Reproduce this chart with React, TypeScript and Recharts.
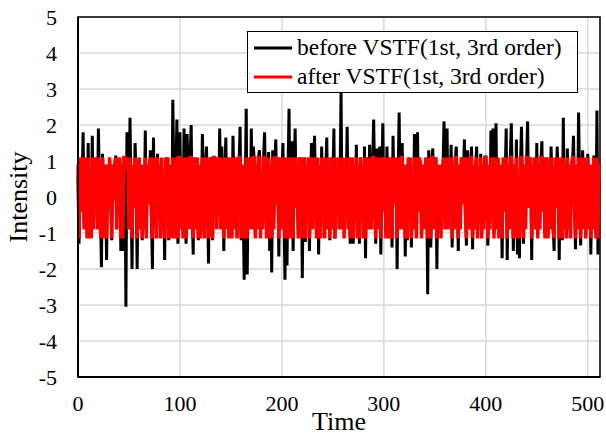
import { LineChart, Line, XAxis, YAxis, CartesianGrid, Legend, ReferenceArea, Label } from "recharts";

const FONT = "'Liberation Serif', 'Times New Roman', serif";

const X_TICKS = [0, 100, 200, 300, 400, 500];
const Y_TICKS = [-5, -4, -3, -2, -1, 0, 1, 2, 3, 4, 5];

const BEFORE_NAME = "before VSTF(1st, 3rd order)";
const AFTER_NAME = "after VSTF(1st, 3rd order)";
const LEGEND_ORDER = [BEFORE_NAME, AFTER_NAME];

// signal before the filter, one value per time step (0..511)
const before = [
  0.6, -1.3, 0.9, -0.4, 0.3, 1.8, -0.8, 0.5, 1.0, -1.1, 1.5, -0.9, 0.2, -1.0, 1.7, -0.6,
  0.9, -0.2, 1.1, -0.7, 1.9, 0.3, -0.5, -1.95, 1.2, 0.4, -0.9, 0.7, -1.75, 0.5, -0.3, 1.0,
  0.2, -1.2, 0.6, -0.1, 0.8, 1.15, -0.6, 0.9, 0.3, 1.0, -1.5, 0.7, -1.5, 0.9, 1.1, -3.05,
  1.8, 0.5, -0.8, 2.2, 0.1, -2.0, 0.8, -0.3, 1.5, 0.6, -2.0, 0.4, 1.0, -0.7, 0.6, -1.2,
  0.3, -0.6, 1.85, -0.9, 0.8, -0.2, 0.5, 1.3, -0.4, -2.0, 1.65, -0.5, 0.9, -1.0, 1.2, -0.3,
  0.7, -1.1, 1.0, -0.8, 0.2, -1.75, 0.9, -0.4, 1.1, -1.2, 0.3, 0.8, -0.9, 2.7, 0.4, -1.1,
  0.6, 2.15, -1.3, 0.9, 1.8, -0.5, 1.0, -1.0, 1.9, 0.2, -1.3, 1.75, 0.8, -0.6, 1.1, 2.0,
  -0.4, -1.6, 1.1, -0.7, 0.5, 1.0, -1.2, 0.6, -0.9, -0.3, 1.75, 0.4, -1.0, 0.7, 1.4, 0.2,
  -1.85, 0.8, 1.1, -0.5, -1.2, 0.9, 1.1, 0.5, -0.8, 1.0, 0.1, 1.9, -0.6, 1.4, 0.3, -1.5,
  0.6, 1.65, -0.8, 1.1, -1.0, 0.4, 1.0, -0.9, 1.7, 0.3, -0.6, 1.1, -1.1, 0.5, 0.9, 1.95,
  -1.2, 0.7, -0.3, -2.3, 0.2, 2.45, -2.15, 0.6, 1.0, -0.5, 1.9, -0.8, 1.4, 0.9, -1.05, 0.6,
  -0.5, 1.1, 1.3, -0.9, 0.4, -0.6, 1.1, 1.8, 0.2, -1.0, 0.8, 1.25, -1.5, 0.5, -2.1, 1.3,
  -0.6, 0.9, 1.6, -0.2, 0.7, -1.65, 1.1, -0.8, 0.6, 1.5, -0.4, -2.3, 1.0, -1.9, 0.7, 2.45,
  -0.9, 0.5, 1.55, -1.5, 0.8, 1.9, -0.3, 0.6, -0.9, 1.1, 0.2, 0.9, -2.25, 0.4, 1.1, -1.25,
  0.7, -0.4, 1.0, -1.5, 0.3, 1.5, -0.8, 0.6, 1.7, 0.1, -1.0, 0.9, -1.6, 0.5, -1.1, 1.4,
  -0.3, 1.0, -0.9, 0.6, 1.65, -0.5, 0.8, -1.2, 1.1, -0.6, 0.4, 1.9, -1.15, 0.7, -0.2, 1.0,
  -0.5, 0.3, 2.9, -0.7, 1.0, -0.9, 0.6, 0.1, 1.95, -0.8, 1.1, -1.3, 0.4, 1.0, -1.3, 0.8,
  -0.3, 1.45, -0.9, 0.7, -1.3, 1.1, -0.2, 0.5, -1.0, 1.4, -1.7, 0.6, 1.1, -0.8, 1.45, 0.2,
  -0.7, 0.9, 2.15, 0.4, -1.3, 1.35, -0.6, 0.8, 1.4, -1.6, 0.5, 2.05, -0.4, 1.0, -1.0, 1.4,
  0.3, -0.9, 1.1, 0.6, -1.4, 1.7, -0.2, 0.8, 1.0, -2.0, 0.6, 2.35, -0.5, 0.9, 1.5, -0.8,
  0.7, -1.65, 0.5, -1.2, 1.0, -0.3, 0.9, -1.4, 0.4, -0.6, 1.75, 0.2, -0.9, 1.8, -0.4, 1.0,
  0.5, -0.9, 0.3, 0.8, -0.6, 1.0, 0.2, -2.7, 1.3, 0.6, -1.4, 0.9, 1.35, -0.7, 0.4, 1.1,
  -2.0, 0.6, -0.3, 0.5, -0.9, 0.2, 0.8, 2.1, -0.6, 0.7, 1.9, -0.8, 1.1, 0.3, 1.45, -1.4,
  0.6, -0.5, 1.0, 1.4, 0.1, -1.5, 0.8, -0.7, 1.1, -0.2, 0.6, 1.6, -0.4, -1.35, 1.3, 0.3,
  -0.8, 0.9, 1.4, -1.45, 0.5, -0.6, 0.8, 1.4, -0.9, 0.4, -0.3, 1.2, -1.0, 0.7, -0.5, 0.9,
  1.15, 0.2, -1.35, 0.6, -0.7, 1.85, 0.3, 1.9, -1.0, 0.5, 2.05, -0.6, 1.0, -1.1, 0.8, 0.2,
  -1.7, 0.9, -0.4, 0.6, 1.9, -1.75, 0.7, -0.5, 1.0, 2.05, 0.3, -1.5, 0.8, -0.9, 1.6, -1.6,
  0.4, -1.7, 0.9, 1.95, 0.1, -1.3, 0.8, -0.6, 1.0, 2.1, -0.3, 0.6, 1.1, -1.75, 0.7, -0.4,
  1.0, -0.8, 1.5, -0.9, 0.5, -0.6, 0.9, 1.55, -0.4, 1.0, -1.0, 0.6, 1.1, -1.1, 0.8, -0.5,
  1.4, 0.3, -0.8, -1.5, 0.9, -0.3, 1.4, 0.5, -1.75, 0.8, 1.0, -1.2, 2.2, -0.5, 0.7, -0.9,
  1.35, -0.6, 0.8, -1.0, 0.5, 0.9, 1.7, -0.2, -1.45, 0.7, -0.5, 2.35, 0.4, -1.35, 0.6, 1.3,
  -0.7, 0.9, -1.0, 0.3, 1.2, -0.5, 0.8, -1.6, 0.6, -0.8, 1.15, 0.1, -0.9, 2.4, -1.6, 0.5,
];

// signal after the filter (mostly held near +-1.1)
const after = [
  0.9, -1.15, 1.1, -0.4, 0.3, 1.1, -0.9, 0.9, 1.1, -1.15, 1.1, -1.15, 0.2, -1.15, 1.1, -0.9,
  1.1, -0.2, 1.1, -0.9, 1.1, 0.3, -0.9, -1.15, 1.1, 0.4, -1.15, 0.9, -1.15, 0.9, -0.3, 1.1,
  0.2, -1.15, 0.9, -0.1, 0.9, 1.1, -0.9, 1.1, 0.3, 1.1, -1.15, 0.9, -1.15, 1.1, 1.1, 0.8,
  1.1, 0.9, -0.9, 1.1, 0.1, -1.15, 0.9, -0.3, 1.1, 0.9, -1.15, 0.4, 1.1, -0.9, 0.9, -1.15,
  0.3, -0.9, 1.1, -1.15, 0.9, -0.2, 0.9, 1.1, -0.4, -1.15, 1.1, -0.9, 1.1, -1.15, 1.1, -0.3,
  0.9, -1.15, 1.1, -0.9, 0.2, -1.15, 1.1, -0.4, 1.1, -1.15, 0.3, 0.9, -1.15, 1.1, 0.4, -1.15,
  0.9, 1.1, -1.15, 1.1, 1.1, -0.9, 1.1, -1.15, 1.1, 0.2, -1.15, 1.1, 0.9, -0.9, 1.1, 1.1,
  -0.4, -1.15, 1.1, -0.9, 0.9, 1.1, -1.15, 0.9, -1.15, -0.3, 1.1, 0.4, -1.15, 0.9, 1.1, 0.2,
  -1.15, 0.9, 1.1, -0.9, -1.15, 1.1, 1.1, 0.9, -0.9, 1.1, 0.1, 1.1, -0.9, 1.1, 0.3, -1.15,
  0.9, 1.1, -0.9, 1.1, -1.15, 0.4, 1.1, -1.15, 1.1, 0.3, -0.9, 1.1, -1.15, 0.9, 1.1, 1.1,
  -1.15, 0.9, -0.3, -1.15, 0.2, 1.1, -1.15, 0.9, 1.1, -0.9, 1.1, -0.9, 1.1, 1.1, -1.15, 0.9,
  -0.9, 1.1, 1.1, -1.15, 0.4, -0.9, 1.1, 1.1, 0.2, -1.15, 0.9, 1.1, -1.15, 0.9, -1.15, 1.1,
  -0.9, 1.1, 1.1, -0.2, 0.9, -1.15, 1.1, -0.9, 0.9, 1.1, -0.4, -1.15, 1.1, -1.15, 0.9, 1.1,
  -1.15, 0.9, 1.1, -1.15, 0.9, 1.1, -0.3, 0.9, -1.15, 1.1, 0.2, 1.1, -1.15, 0.4, 1.1, -1.15,
  0.9, -0.4, 1.1, -1.15, 0.3, 1.1, -0.9, 0.9, 1.1, 0.1, -1.15, 1.1, -1.15, 0.9, -1.15, 1.1,
  -0.3, 1.1, -1.15, 0.9, 1.1, -0.9, 0.9, -1.15, 1.1, -0.9, 0.4, 1.1, -1.15, 0.9, -0.2, 1.1,
  -0.9, 0.3, 1.1, -0.9, 1.1, -1.15, 0.9, 0.1, 1.1, -0.9, 1.1, -1.15, 0.4, 1.1, -1.15, 0.9,
  -0.3, 1.1, -1.15, 0.9, -1.15, 1.1, -0.2, 0.9, -1.15, 1.1, -1.15, 0.9, 1.1, -0.9, 1.1, 0.2,
  -0.9, 1.1, 1.1, 0.4, -1.15, 1.1, -0.9, 0.9, 1.1, -1.15, 0.9, 1.1, -0.4, 1.1, -1.15, 1.1,
  0.3, -1.15, 1.1, 0.9, -1.15, 1.1, -0.2, 0.9, 1.1, -1.15, 0.9, 1.1, -0.9, 1.1, 1.1, -0.9,
  0.9, -1.15, 0.9, -1.15, 1.1, -0.3, 1.1, -1.15, 0.4, -0.9, 1.1, 0.2, -1.15, 1.1, -0.4, 1.1,
  0.9, -1.15, 0.3, 0.9, -0.9, 1.1, 0.2, -1.15, 1.1, 0.9, -1.15, 1.1, 1.1, -0.9, 0.4, 1.1,
  -1.15, 0.9, -0.3, 0.9, -1.15, 0.2, 0.9, 1.1, -0.9, 0.9, 1.1, -0.9, 1.1, 0.3, 1.1, -1.15,
  0.9, -0.9, 1.1, 1.1, 0.1, -1.15, 0.9, -0.9, 1.1, -0.2, 0.9, 1.1, -0.4, -1.15, 1.1, 0.3,
  -0.9, 1.1, 1.1, -1.15, 0.9, -0.9, 0.9, 1.1, -1.15, 0.4, -0.3, 1.1, -1.15, 0.9, -0.9, 1.1,
  1.1, 0.2, -1.15, 0.9, -0.9, 1.1, 0.3, 1.1, -1.15, 0.9, 1.1, -0.9, 1.1, -1.15, 0.9, 0.2,
  -1.15, 1.1, -0.4, 0.9, 1.1, -1.15, 0.9, -0.9, 1.1, 1.1, 0.3, -1.15, 0.9, -1.15, 1.1, -1.15,
  0.4, -1.15, 1.1, 1.1, 0.1, -1.15, 0.9, -0.9, 1.1, 1.1, -0.3, 0.9, 1.1, -1.15, 0.9, -0.4,
  1.1, -0.9, 1.1, -1.15, 0.9, -0.9, 1.1, 1.1, -0.4, 1.1, -1.15, 0.9, 1.1, -1.15, 0.9, -0.9,
  1.1, 0.3, -0.9, -1.15, 1.1, -0.3, 1.1, 0.9, -1.15, 0.9, 1.1, -1.15, 1.1, -0.9, 0.9, -1.15,
  1.1, -0.9, 0.9, -1.15, 0.9, 1.1, 1.1, -0.2, -1.15, 0.9, -0.9, 1.1, 0.4, -1.15, 0.9, 1.1,
  -0.9, 1.1, -1.15, 0.3, 1.1, -0.9, 0.9, -1.15, 0.9, -0.9, 1.1, 0.1, -1.15, 1.1, -1.15, 0.9,
];

const data = before.map((b, i) => ({ t: i, before: b, after: after[i] }));

const renderLegend = (props: any) => {
  const items = [...(props.payload || [])].sort(
    (a: any, b: any) => LEGEND_ORDER.indexOf(a.value) - LEGEND_ORDER.indexOf(b.value)
  );
  return (
    <div
      style={{
        boxSizing: "border-box",
        width: 331,
        height: 62,
        border: "1.5px solid #000",
        background: "#fff",
        padding: "1px 6px",
        fontFamily: FONT,
        fontSize: 23.5,
        color: "#000",
        lineHeight: "29px",
      }}
    >
      {items.map((entry: any) => (
        <div key={entry.value} style={{ display: "flex", alignItems: "center", whiteSpace: "nowrap" }}>
          <svg width={38} height={10} style={{ marginRight: 5, flexShrink: 0 }}>
            <line x1={0} y1={5} x2={38} y2={5} stroke={entry.color} strokeWidth={3} />
          </svg>
          <span>{entry.value}</span>
        </div>
      ))}
    </div>
  );
};

export default function App() {
  return (
    <div style={{ position: "absolute", left: 0, top: 0, background: "#fff" }}>
      <LineChart width={606} height={436} data={data} margin={{ top: 17, right: 6, left: 0, bottom: 1 }}>
        <CartesianGrid stroke="#d9d9d9" strokeWidth={1.5} />
        <XAxis
          dataKey="t"
          type="number"
          domain={[0, 512]}
          ticks={X_TICKS}
          height={58}
          tickLine={false}
          tickSize={0}
          tickMargin={18}
          axisLine={{ stroke: "#000", strokeWidth: 2 }}
          tick={{ fill: "#000", fontSize: 22, fontFamily: FONT }}
          interval={0}
        >
          <Label value="Time" position="center" dy={15} style={{ fontFamily: FONT, fontSize: 26, fill: "#000" }} />
        </XAxis>
        <YAxis
          type="number"
          domain={[-5, 5]}
          ticks={Y_TICKS}
          width={78}
          tickLine={false}
          tickSize={0}
          tickMargin={21}
          axisLine={{ stroke: "#000", strokeWidth: 2 }}
          tick={{ fill: "#000", fontSize: 22, fontFamily: FONT }}
          interval={0}
        >
          <Label
            value="Intensity"
            position="center"
            angle={-90}
            dx={-21}
            style={{ fontFamily: FONT, fontSize: 26, fill: "#000", textAnchor: "middle" }}
          />
        </YAxis>
        <Line
          type="linear"
          dataKey="before"
          name={BEFORE_NAME}
          stroke="#000"
          strokeWidth={3}
          dot={false}
          isAnimationActive={false}
        />
        <Line
          type="linear"
          dataKey="after"
          name={AFTER_NAME}
          stroke="#ff0000"
          strokeWidth={3.5}
          dot={false}
          isAnimationActive={false}
        />
        <ReferenceArea x1={0} x2={512} y1={-5} y2={5} fill="none" stroke="#000" strokeWidth={1.5} ifOverflow="visible" />
        <Legend
          layout="vertical"
          verticalAlign="middle"
          align="center"
          width={331}
          height={62}
          content={renderLegend}
          wrapperStyle={{ top: 31, left: 247, width: 331, height: 62 }}
        />
      </LineChart>
    </div>
  );
}
